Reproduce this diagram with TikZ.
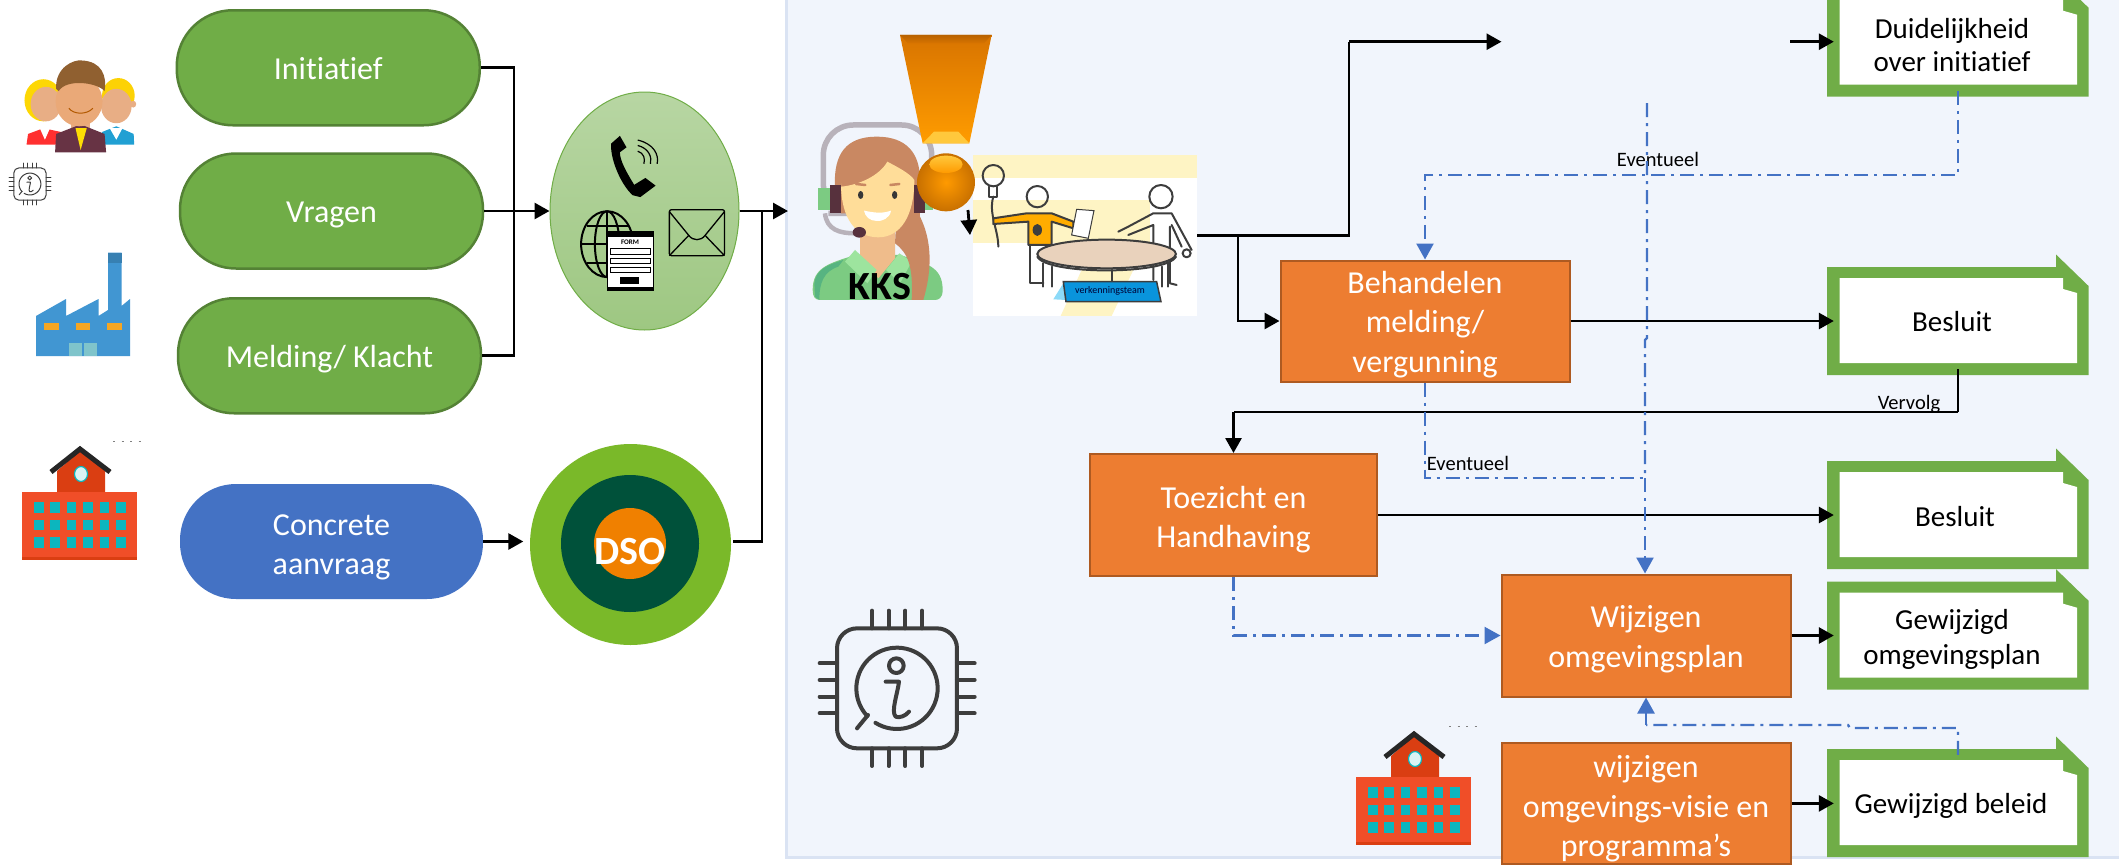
\documentclass[tikz,border=0pt]{standalone}
\usepackage{fontspec}
\setmainfont[Ligatures=NoCommon]{Carlito}
\usetikzlibrary{arrows.meta,shapes.geometric}
\definecolor{panelfill}{HTML}{F1F5FC}
\definecolor{panelline}{HTML}{DAE3F3}
\definecolor{pillgreen}{HTML}{70AD47}
\definecolor{pilledge}{HTML}{548235}
\definecolor{pillblue}{HTML}{4472C4}
\definecolor{boxorange}{HTML}{ED7D31}
\definecolor{boxedge}{HTML}{AE5A21}
\definecolor{dsoouter}{HTML}{7AB929}
\definecolor{dsodark}{HTML}{00513A}
\definecolor{dsoorange}{HTML}{F08000}
\definecolor{bldbody}{HTML}{F04E28}
\definecolor{bldtower}{HTML}{DA3E12}
\definecolor{bldwin}{HTML}{0CB6BE}
\definecolor{facblue}{HTML}{4196D2}
\definecolor{facwin}{HTML}{F5A623}
\definecolor{facdoor}{HTML}{7FC4CB}
\definecolor{skin}{HTML}{E8AE85}
\definecolor{hairw}{HTML}{C98862}
\definecolor{facew}{HTML}{FFDD99}
\definecolor{chipgray}{HTML}{3D3D3D}
\definecolor{shirtg}{HTML}{7CCB82}
\definecolor{collarg}{HTML}{9DE49E}
\definecolor{bandgray}{HTML}{B8B2BA}
\definecolor{excltop}{HTML}{D87400}
\definecolor{exclbot}{HTML}{FF9C00}
\definecolor{exclrim}{HTML}{B86200}
\definecolor{exclhi}{HTML}{FFC83C}
\definecolor{ballin}{HTML}{FF9A00}
\definecolor{ballout}{HTML}{C87000}
\newcommand\lowered[2][4pt]{\raisebox{-#1}[\height][\depth]{\begin{tabular}{@{}c@{}}#2\end{tabular}}}
\tikzset{
  x=1pt,y=-1pt,
  pillnode/.style={rectangle,rounded corners=56pt,minimum width=303pt,minimum height=115pt,inner sep=0pt,align=center,text=white,font=\fontsize{32}{39}\selectfont},
  greenpill/.style={pillnode,fill=pillgreen,draw=pilledge,line width=2.5pt},
  bluepill/.style={pillnode,fill=pillblue},
  orangebox/.style={rectangle,fill=boxorange,draw=boxedge,line width=2pt,inner sep=0pt,align=center,text=white,font=\fontsize{32}{39.5}\selectfont},
  docnode/.style={rectangle,minimum width=248pt,minimum height=108pt,inner sep=0pt},
  doctext/.style={inner sep=0pt,align=center,text=black,font=\fontsize{29}{35.5}\selectfont},
  smalllabel/.style={inner sep=0pt,text=black,font=\fontsize{20.5}{24}\selectfont},
  conn/.style={line width=2.8pt,draw=black,-{Triangle[length=15pt,width=16pt]}},
  connplain/.style={line width=2.8pt,draw=black},
  bluedash/.style={line width=2.4pt,draw=pillblue,dash pattern=on 14pt off 6pt on 3pt off 6pt},
  bluetip/.style={bluedash,-{Triangle[length=16pt,width=17pt,fill=pillblue]}},
  zone/.style={xscale=0.5102,yscale=0.3827},
  teamline/.style={draw=chipgray,line width=2pt,line cap=round,line join=round},
}
\newcommand\buildingicon[2]{%
\begin{scope}[shift={(#1,#2)}]
 \fill[bldtower] (35,46) -- (35,24) -- (58,4) -- (83,24) -- (83,46) -- cycle;
 \draw[line width=5pt,draw=black!85] (29,25) -- (58,2) -- (88,25);
 \filldraw[fill=white!85!bldwin,draw=bldwin,line width=1.2pt] (59,27) ellipse (6.5 and 7.5);
 \fill[bldbody] (0,45) rectangle (115,113);
 \fill[bldtower] (0,110) rectangle (115,113);
 \foreach \r in {0,1,2}{\foreach \c in {0,1,2,3,4,5}{
   \fill[bldwin] (12+16.4*\c,55+17.5*\r) rectangle ++(9.5,10.5);}}
\end{scope}}
\newcommand\chipicon[4]{%
\begin{scope}[shift={(#1,#2)},scale=#3,line width=#4,draw=chipgray,line cap=round,line join=round]
 \draw[rounded corners=#4*5] (54,55) rectangle (414,415);
 \foreach \p in {159,209,259,309}{
  \draw (\p,2) -- (\p,55); \draw (\p,415) -- (\p,468);
 }
 \foreach \p in {160,210,260,310}{
  \draw (2,\p) -- (54,\p); \draw (414,\p) -- (467,\p);
 }
 \draw plot[domain=137:482,samples=60] ({234+122*cos(\x)},{235+122*sin(\x)});
 \draw (147,315) -- (114,355);
 \draw (232,167) circle (22);
 \draw (200,215) -- (240,215) .. controls (236,250) and (215,305) .. (230,320) .. controls (240,325) and (260,318) .. (270,305);
\end{scope}}
\newcommand\docframe[2]{%
 \fill[pillgreen] (1827,#2) -- (2056,#2) -- (2056,#2-12.5) -- (2088.5,#2+19) -- (2088.5,#2+108) -- (1827,#2+108) -- cycle;
 \fill[white] (1839.5,#2+11) -- (2063,#2+11) -- (2063,#2+22) -- (2077,#2+26) -- (2077,#2+96) -- (1839.5,#2+96) -- cycle;
 \node[docnode] (#1) at (1958,#2+54) {};
}
\begin{document}
\begin{tikzpicture}
\useasboundingbox (0,0) rectangle (2119,865);
\fill[white] (0,0) rectangle (2119,865);
% panel
\filldraw[fill=panelfill,draw=panelline,line width=3pt] (786.5,-10) rectangle (2130,857);

% ---- people icon
\begin{scope}[zone]
 \fill[yellow!75!orange] (85,262) ellipse (37 and 55);
 \fill[skin] (90,272) ellipse (30 and 45);
 \fill[red!75!pink] (52,378) -- (55,350) -- (85,335) -- (120,345) -- (120,378) -- cycle;
 \fill[yellow!70!orange] (232,250) ellipse (32 and 46);
 \fill[skin] (228,277) ellipse (30 and 45);
 \fill[skin] (261,272) ellipse (6 and 9);
 \fill[cyan!70!teal] (196,378) -- (200,345) -- (228,330) -- (262,350) -- (263,378) -- cycle;
 \fill[white] (215,335) -- (240,335) -- (228,365) -- cycle;
 \fill[white] (78,335) -- (98,335) -- (88,365) -- cycle;
 \fill[skin] (140,310) rectangle (176,345);
 \fill[black!55!purple!60!gray] (108,398) -- (110,350) -- (158,325) -- (205,350) -- (208,398) -- cycle;
 \fill[yellow!80!orange] (148,335) -- (170,335) -- (158,392) -- cycle;
 \fill[skin!90!orange] (155,265) ellipse (46 and 65);
 \fill[brown!75!black] (110,232) .. controls (108,175) and (145,155) .. (160,158) .. controls (200,160) and (210,200) .. (205,238) .. controls (190,215) and (130,205) .. (115,238) -- cycle;
 \draw[line width=1pt,draw=orange!70!black] (135,283) .. controls (145,300) and (170,300) .. (182,283);
\end{scope}
\chipicon{9}{163}{0.0895}{1pt}

% ---- factory icon
\fill[facblue] (36,316) -- (66,299) -- (66,316) -- (98.5,299) -- (98.5,316) -- (108,310) -- (108,252.6) -- (121.5,252.6) -- (121.5,306) -- (130,299) -- (130,356) -- (36,356) -- cycle;
\fill[facblue!85!black] (108,252.6) rectangle (121.5,263);
\foreach \wx in {44,75.5,107}{\fill[facwin] (\wx,323.4) rectangle ++(14.5,6.6);}
\fill[facdoor] (69,342.5) rectangle (82,356);
\fill[facdoor] (84,342.5) rectangle (97,356);

% ---- building icons
\buildingicon{22}{447}
\draw[gray,line width=1pt,dash pattern=on 2pt off 6.5pt] (113,441) -- (142,441);
\buildingicon{1356}{732}
\draw[gray,line width=1pt,dash pattern=on 2pt off 6.5pt] (1449,726) -- (1477,726);
\chipicon{819}{610}{0.3333}{4pt}

% ---- pills
\node[greenpill] (init) at (328.25,67.75) {\lowered{Initiatief}};
\node[greenpill] (vrag) at (331.5,211) {\lowered{Vragen}};
\node[greenpill] (meld) at (329.5,355.75) {\lowered{Melding/ Klacht}};
\node[bluepill] (conc) at (331.5,541.5) {\lowered[5.5pt]{Concrete\\aanvraag}};

% ---- contact ellipse
\node[ellipse,draw=pillgreen,line width=1pt,top color=pillgreen!50!white,bottom color=pillgreen!68!white,minimum width=189pt,minimum height=238pt,inner sep=0pt] (chan) at (644.5,211) {};
\begin{scope}[zone]
 % phone
 \fill[black] (1215,355) -- (1198,375) .. controls (1195,410) and (1215,480) .. (1240,510) -- (1255,515) -- (1285,485) -- (1265,465) -- (1243,483) .. controls (1228,450) and (1215,420) .. (1215,398) -- (1228,385) -- cycle;
 \draw[line width=1.2pt] (1250,395) .. controls (1262,400) and (1265,415) .. (1262,428);
 \draw[line width=1.2pt] (1250,380) .. controls (1272,388) and (1278,410) .. (1275,428);
 \draw[line width=1.2pt] (1250,366) .. controls (1282,376) and (1292,405) .. (1288,428);
 % globe
 \draw[line width=2pt] (1190,638) ellipse (51 and 86);
 \draw[line width=2pt] (1190,638) ellipse (24 and 86);
 \draw[line width=2pt] (1190,552) -- (1190,724);
 \draw[line width=2pt] (1139,638) -- (1241,638);
 \draw[line width=2pt] (1150,590) -- (1230,590);
 \draw[line width=2pt] (1150,686) -- (1230,686);
 % form
 \filldraw[fill=white,draw=black,line width=1pt] (1190,605) rectangle (1280,760);
 \fill[black] (1190,605) rectangle (1280,620);
 \fill[black] (1190,750) rectangle (1280,760);
 \draw[line width=.8pt] (1197,650) rectangle (1274,665);
 \draw[line width=.8pt] (1197,675) rectangle (1274,688);
 \draw[line width=.8pt] (1197,698) rectangle (1274,712);
 \fill[black] (1215,725) rectangle (1253,742);
 % envelope
 \draw[line width=1.3pt,rounded corners=2pt] (1312,548) rectangle (1420,668);
 \draw[line width=1.3pt] (1312,553) -- (1350,615) .. controls (1358,630) and (1374,630) .. (1382,615) -- (1420,553);
 \draw[line width=1.3pt] (1312,668) -- (1350,615);
 \draw[line width=1.3pt] (1420,668) -- (1382,615);
\end{scope}
\node[inner sep=0pt,font=\bfseries\fontsize{7}{8}\selectfont] (formlabel) at (630,242.5) {FORM};

% ---- DSO
\node[ellipse,fill=dsoouter,minimum width=201pt,minimum height=201pt,inner sep=0pt] (dso) at (630.5,544.5) {};
\node[ellipse,fill=dsodark,minimum width=138pt,minimum height=137pt,inner sep=0pt] (dsomid) at (630,543.5) {};
\node[ellipse,fill=dsoorange,minimum width=72pt,minimum height=71pt,inner sep=0pt] (dsoin) at (630,543.5) {};
\node[inner sep=0pt,text=white,font=\bfseries\fontsize{40}{44}\selectfont] (dsolabel) at (630,552) {DSO};

% ---- KKS woman
\begin{scope}[shift={(780,0)},scale=0.3333]
 \draw[line width=5.5pt,draw=bandgray,rounded corners=30pt] (145,640) -- (130,640) -- (130,375) -- (455,375) -- (455,560);
 \draw[line width=4.5pt,draw=bandgray] (135,640) .. controls (140,690) and (180,700) .. (225,700);
 \fill[shirtg] (98,870) .. controls (98,800) and (150,790) .. (225,765) -- (360,765) .. controls (440,790) and (488,800) .. (488,870) .. controls (488,895) and (475,900) .. (465,900) -- (120,900) .. controls (105,900) and (98,890) .. (98,870) -- cycle;
 \fill[skin!70!facew] (240,690) -- (345,690) -- (345,775) -- (295,835) -- (240,775) -- cycle;
 \fill[collarg] (195,785) -- (225,750) -- (290,810) -- (262,850) -- cycle;
 \fill[collarg] (318,810) -- (358,760) -- (395,785) -- (360,850) -- cycle;
 \fill[hairw] (165,560) .. controls (160,460) and (200,410) .. (290,410) .. controls (380,410) and (420,460) .. (420,540) -- (420,650) .. controls (445,700) and (465,780) .. (430,900) -- (395,900) .. controls (400,800) and (385,760) .. (345,730) -- (350,640) -- (183,640) -- cycle;
 \fill[facew] (183,550) .. controls (183,660) and (230,712) .. (295,712) .. controls (360,712) and (403,650) .. (403,540) .. controls (390,520) and (350,500) .. (322,485) .. controls (300,525) and (240,555) .. (183,560) -- cycle;
 \fill[shirtg!70!teal] (103,850) .. controls (108,810) and (140,795) .. (190,780) -- (175,800) .. controls (130,815) and (118,850) .. (118,900) -- (105,890) -- cycle;
 \fill[shirtg] (115,565) rectangle (150,630);
 \fill[chipgray!80!purple] (150,555) rectangle (183,638);
 \fill[chipgray!80!purple] (403,555) rectangle (435,638);
 \fill[shirtg] (435,600) rectangle (460,630);
 \fill[chipgray!80!purple] (238,697) ellipse (20 and 16);
 \fill[chipgray!90!black] (242,585) ellipse (8 and 12);
 \fill[chipgray!90!black] (344,585) ellipse (8 and 12);
 \draw[line width=2.5pt,draw=hairw,line cap=round] (228,552) -- (256,555);
 \draw[line width=2.5pt,draw=hairw,line cap=round] (331,555) -- (358,552);
 \fill[white] (252,632) .. controls (290,640) and (310,640) .. (333,632) .. controls (330,655) and (305,665) .. (290,663) .. controls (270,663) and (255,650) .. (252,632) -- cycle;
\end{scope}
\node[inner sep=0pt,text=black,font=\bfseries\fontsize{40}{44}\selectfont] (kks) at (880,287) {KKS};

% ---- team picture
\node[rectangle,fill=white,minimum width=224pt,minimum height=161pt,inner sep=0pt] (team) at (1085,235.5) {};
\begin{scope}[shift={(780,0)},scale=0.3333]
 \fill[yellow!70!orange!22!white] (578,465) rectangle (1252,535);
 \fill[yellow!70!orange!22!white] (578,600) rectangle (1110,730);
 \fill[yellow!70!orange!22!white] (905,810) -- (1060,810) -- (995,948) -- (842,948) -- cycle;
 % bulb
 \draw[teamline] (640,527) circle (32);
 \draw[teamline] (628,560) -- (628,590) -- (652,590) -- (652,560);
 \draw[teamline] (640,590) .. controls (625,640) and (655,690) .. (655,740);
 % person 1
 \draw[teamline] (772,590) circle (32);
 \filldraw[fill=orange!65!yellow,draw=chipgray,line width=2pt,line join=round] (640,655) -- (740,640) -- (815,640) -- (880,665) -- (880,685) -- (815,665) -- (815,735) -- (745,735) -- (745,665) -- (640,672) -- cycle;
 \fill[chipgray] (772,690) ellipse (14 and 18);
 \draw[teamline] (750,735) -- (750,850) -- (790,850);
 % paper
 \filldraw[fill=white,draw=chipgray,line width=1pt] (890,628) -- (942,632) -- (925,715) -- (875,705) -- cycle;
 % person 2
 \draw[teamline] (1143,590) circle (35);
 \draw[teamline] (1015,695) -- (1045,680) -- (1120,640) -- (1175,640) -- (1235,750);
 \draw[teamline] (1045,705) -- (1120,675) -- (1120,840);
 \draw[teamline] (1175,675) -- (1205,740);
 \draw[teamline] (1220,760) circle (12);
 \draw[teamline] (1170,680) -- (1170,850) -- (1190,855);
 % table
 \draw[teamline] (790,790) -- (790,860);
 \draw[teamline] (815,800) -- (815,860);
 \draw[teamline] (1145,800) -- (1145,860);
 \draw[teamline] (1165,790) -- (1165,860);
 \draw[teamline] (997,810) -- (997,845);
 \filldraw[fill=brown!35!white,draw=chipgray,line width=2pt] (980,762) ellipse (208 and 43);
 \draw[teamline] (772,770) .. controls (800,825) and (1160,825) .. (1188,770);
 % sign
 \fill[cyan!45!white] (820,898) -- (850,850) -- (858,900) -- cycle;
 \filldraw[fill=cyan!80!blue,draw=chipgray,line width=1.5pt] (850,845) -- (1130,845) -- (1143,905) -- (858,905) -- cycle;
\end{scope}
\node[inner sep=0pt,text=black!80!blue,font=\fontsize{10}{12}\selectfont] (signlabel) at (1110,291) {verkenningsteam};

% ---- exclamation mark
\begin{scope}[shift={(780,0)},scale=0.3333]
 \shade[top color=excltop,bottom color=exclbot] (360,105) -- (635,105) -- (568,430) -- (428,430) -- cycle;
 \shade[top color=exclrim,bottom color=excltop] (360,105) -- (635,105) -- (612,130) -- (384,130) -- cycle;
 \fill[exclhi] (428,430) -- (568,430) -- (535,395) -- (462,395) -- cycle;
 \shade[shading=radial,inner color=ballin,outer color=ballout] (498,547) circle (87);
 \shade[top color=exclhi,bottom color=ballin] (498,493) ellipse (50 and 26);
\end{scope}
\coordinate (ctip) at (968,210);
\coordinate (ctipend) at (970,235);

% ---- process boxes
\node[orangebox,minimum width=289pt,minimum height=121pt] (beh) at (1425,321) {\lowered{Behandelen\\melding/\\vergunning}};
\node[orangebox,minimum width=287pt,minimum height=122pt] (toe) at (1233.5,515) {\lowered[5pt]{Toezicht en\\Handhaving}};
\node[orangebox,minimum width=289pt,minimum height=122pt] (wij) at (1646,635.5) {\lowered{Wijzigen\\omgevingsplan}};
\node[orangebox,minimum width=289pt,minimum height=121pt] (omg) at (1646,803.4) {\lowered[6pt]{wijzigen\\omgevings-visie en\\programma’s}};

% ---- documents
\docframe{dA}{-11.3}
\docframe{dB}{267}
\docframe{dC}{461}
\docframe{dD}{581.7}
\docframe{dE}{749}
\node[doctext,font=\fontsize{29}{33}\selectfont] (dAt) at (1952,45) {Duidelijkheid\\over initiatief};
\node[doctext] (dBt) at (1952,322) {Besluit};
\node[doctext] (dCt) at (1955,517) {Besluit};
\node[doctext,font=\fontsize{29}{35}\selectfont] (dDt) at (1952,639) {Gewijzigd\\omgevingsplan};
\node[doctext] (dEt) at (1951,806) {Gewijzigd beleid};

% ---- labels
\node[smalllabel] (ev1) at (1658,159) {Eventueel};
\node[smalllabel] (ev2) at (1468,463) {Eventueel};
\node[smalllabel] (verv) at (1909,404) {Vervolg};

% ---- named routing points
\coordinate (jleft) at (514,211);
\coordinate (jright) at (762,211);
\coordinate (kksin) at (788,211);
\coordinate (jteam) at (1238,235.5);
\coordinate (jup) at (1349,41.7);
\coordinate (gapa) at (1501.5,41.7);
\coordinate (gapb) at (1790,41.7);
\coordinate (vervy) at (1958,412);
\coordinate (vervx) at (1233.5,412);
\coordinate (evy) at (1958,175);
\coordinate (evx) at (1425,175);
\coordinate (vtop) at (1647,103);
\coordinate (vkinka) at (1647,338);
\coordinate (vkinkb) at (1645,340);
\coordinate (bx) at (1645,478);
\coordinate (by) at (1425,478);
\coordinate (ty) at (1233.5,635.5);
\coordinate (lo1) at (1958,728);
\coordinate (lo2) at (1850,728);
\coordinate (lo3) at (1848,725);
\coordinate (lo4) at (1646,725);

% ---- black connectors
\draw[connplain] (init.east) -| (jleft);
\draw[connplain] (meld.east) -| (jleft);
\draw[conn] (vrag.east) -- (chan.west);
\draw[conn,shorten >=6.5pt] (conc.east) -- (conc.east -| dso.west);
\draw[conn] (chan.east) -- (kksin);
\draw[connplain,shorten <=2pt] (dso.east |- conc.east) -| (jright);
\draw[conn] (ctip) -- (ctipend);
\draw[connplain] (team.east) -- (jteam) -- (team.east -| jup) -- (jup);
\draw[conn] (jup) -- (gapa);
\draw[conn] (gapb) -- (dA.west |- gapb);
\draw[conn] (jteam) |- (beh.west);
\draw[conn] (beh.east) -- (dB.west |- beh.east);
\draw[conn] (toe.east) -- (dC.west |- toe.east);
\draw[conn] (wij.east) -- (dD.west |- wij.east);
\draw[conn] (omg.east) -- (dE.west |- omg.east);
\draw[line width=1.5pt] ([yshift=6pt]dB.south) -- (vervy);
\draw[connplain] (vervy) -- (vervx);
\draw[conn] (vervx) -- (toe.north);

% ---- blue dash-dot connectors
\draw[bluetip,rounded corners=0pt] ([yshift=6pt]dA.south) -- (evy) -- (evx) -- (beh.north);
\draw[bluedash] (vtop) -- (vkinka) -- (vkinkb) -- (bx);
\draw[bluedash] (beh.south) -- (by) -- (bx);
\draw[bluetip] (bx) -- (wij.north -| bx);
\draw[bluetip] (toe.south) -- (ty) -- (wij.west);
\draw[bluedash] ([yshift=-6pt]dE.north) -- (lo1) -- (lo2) -- (lo3) -- (lo4);
\draw[bluetip] (lo4) -- (wij.south);
\end{tikzpicture}
\end{document}
